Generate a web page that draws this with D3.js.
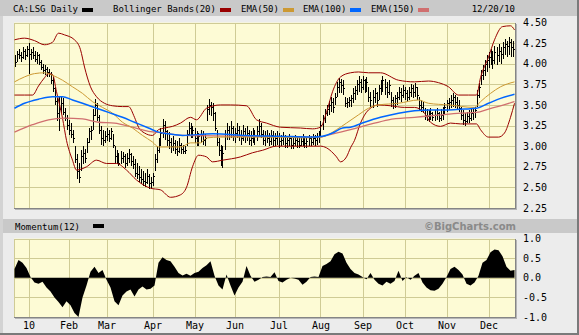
<!DOCTYPE html>
<html lang="en">
<head>
  <meta charset="UTF-8" />
  <title>CA:LSG Daily</title>
  <script src="https://d3js.org/d3.v7.min.js"></script>
  <style>
    body { margin: 0; background: #ececec; }
    svg { display: block; }
  </style>
</head>
<body>
  <div id="chart"></div>
  <script>
    // daily bars, one per trading day (index 0 = Dec 21 2009, 250 = Dec 20 2010)
    const hi = [
      4.10,4.16,4.18,4.14,4.20,4.18,4.22,4.25,4.18,4.20, 4.16,4.14,4.12,4.04,4.00,3.98,3.96,3.94,3.90,3.84,
      3.72,3.58,3.60,3.60,3.58,3.46,3.38,3.32,3.28,3.20, 3.00,2.90,2.80,2.95,3.00,2.96,3.10,3.22,3.25,3.45,
      3.57,3.52,3.38,3.25,3.20,3.18,3.22,3.20,3.22,3.15, 3.00,2.95,2.92,2.94,2.93,2.90,2.92,2.96,2.92,2.88,
      2.84,2.80,2.76,2.72,2.70,2.68,2.72,2.66,2.62,2.68, 2.90,3.00,3.10,3.22,3.33,3.30,3.20,3.17,3.10,3.12,
      3.08,3.06,3.10,3.04,3.02,3.00,3.20,3.29,3.28,3.25, 3.22,3.18,3.16,3.20,3.18,3.15,3.50,3.57,3.54,3.52,
      3.42,3.20,3.10,3.02,3.00,3.20,3.28,3.25,3.30,3.25, 3.22,3.28,3.25,3.20,3.26,3.22,3.24,3.20,3.18,3.22,
      3.20,3.24,3.33,3.28,3.20,3.18,3.20,3.16,3.20,3.18, 3.16,3.18,3.16,3.14,3.17,3.14,3.12,3.15,3.12,3.10,
      3.14,3.12,3.10,3.12,3.15,3.12,3.10,3.14,3.12,3.15, 3.14,3.16,3.18,3.30,3.38,3.45,3.50,3.55,3.60,3.58,
      3.65,3.78,3.83,3.82,3.80,3.60,3.58,3.60,3.62,3.70, 3.73,3.80,3.85,3.82,3.85,3.82,3.84,3.72,3.66,3.68,
      3.70,3.66,3.74,3.80,3.85,3.82,3.78,3.80,3.66,3.60, 3.62,3.66,3.72,3.70,3.74,3.72,3.68,3.72,3.76,3.74,
      3.77,3.72,3.60,3.56,3.54,3.46,3.45,3.44,3.46,3.42, 3.44,3.46,3.42,3.45,3.48,3.52,3.56,3.58,3.62,3.65,
      3.62,3.60,3.56,3.48,3.44,3.40,3.42,3.44,3.46,3.46, 3.48,3.68,3.77,3.92,3.98,4.05,4.10,4.14,4.18,4.16,
      4.22,4.20,4.24,4.20,4.26,4.30,4.28,4.32,4.30,4.28,4.30
    ];
    const lo = [
      3.96,4.02,4.06,4.02,4.06,4.04,4.08,3.88,4.04,4.06, 4.02,4.00,3.98,3.92,3.88,3.86,3.84,3.84,3.76,3.66,
      3.50,3.30,3.18,3.40,3.38,3.30,3.20,3.14,3.10,3.04, 2.80,2.60,2.55,2.70,2.78,2.80,2.92,3.04,3.08,3.20,
      3.36,3.30,3.15,3.02,3.00,3.04,3.06,3.05,3.08,2.98, 2.80,2.78,2.76,2.78,2.80,2.74,2.76,2.80,2.76,2.72,
      2.62,2.60,2.56,2.54,2.52,2.50,2.54,2.48,2.48,2.52, 2.70,2.80,2.92,3.00,3.10,3.08,3.00,2.96,2.92,2.94,
      2.90,2.88,2.92,2.90,2.90,2.90,3.00,3.12,3.10,3.10, 3.04,3.00,3.00,3.04,3.02,3.00,3.30,3.38,3.36,3.30,
      3.18,3.00,2.88,2.76,2.74,2.95,3.08,3.08,3.10,3.06, 3.04,3.10,3.06,3.02,3.06,3.04,3.06,3.02,3.00,3.04,
      3.02,3.06,3.12,3.10,3.02,3.00,3.04,3.00,3.02,3.00, 3.00,3.02,2.98,3.00,3.02,2.98,2.98,3.00,2.97,2.96,
      3.00,2.98,2.98,3.00,3.00,2.98,2.98,3.00,3.00,3.02, 3.00,3.02,3.04,3.14,3.20,3.28,3.36,3.38,3.42,3.40,
      3.50,3.60,3.65,3.64,3.62,3.48,3.46,3.48,3.48,3.52, 3.56,3.62,3.66,3.64,3.68,3.64,3.66,3.54,3.48,3.46,
      3.52,3.48,3.56,3.62,3.66,3.62,3.58,3.62,3.48,3.45, 3.46,3.50,3.56,3.54,3.58,3.56,3.54,3.56,3.60,3.58,
      3.60,3.56,3.44,3.42,3.40,3.32,3.30,3.29,3.32,3.30, 3.30,3.32,3.29,3.30,3.32,3.38,3.42,3.44,3.46,3.48,
      3.46,3.44,3.41,3.32,3.26,3.25,3.28,3.28,3.30,3.32, 3.34,3.48,3.58,3.74,3.80,3.85,3.90,3.95,3.98,3.94,
      4.00,3.98,4.02,4.00,4.06,4.10,4.08,4.10,4.08,4.08,4.10
    ];
    const cl = [
      4.02,4.12,4.10,4.08,4.15,4.10,4.18,4.12,4.14,4.10, 4.06,4.10,4.02,3.96,3.92,3.94,3.90,3.88,3.80,3.70,
      3.55,3.40,3.45,3.52,3.42,3.34,3.26,3.20,3.15,3.10, 2.85,2.70,2.62,2.88,2.92,2.86,3.05,3.18,3.20,3.38,
      3.50,3.35,3.20,3.10,3.08,3.12,3.15,3.10,3.18,3.02, 2.88,2.84,2.80,2.86,2.88,2.80,2.86,2.90,2.82,2.78,
      2.68,2.66,2.62,2.60,2.58,2.56,2.64,2.55,2.56,2.64, 2.85,2.95,3.05,3.16,3.26,3.18,3.08,3.05,3.00,3.04,
      2.96,2.94,3.02,2.96,2.94,2.95,3.15,3.22,3.18,3.20, 3.10,3.06,3.12,3.14,3.08,3.10,3.45,3.50,3.48,3.40,
      3.22,3.05,2.95,2.85,2.92,3.15,3.20,3.15,3.22,3.12, 3.16,3.20,3.12,3.10,3.18,3.12,3.16,3.08,3.10,3.14,
      3.12,3.18,3.25,3.15,3.08,3.12,3.10,3.06,3.14,3.08, 3.10,3.12,3.06,3.08,3.12,3.04,3.08,3.10,3.02,3.04,
      3.08,3.06,3.02,3.06,3.10,3.04,3.06,3.10,3.05,3.10, 3.08,3.12,3.14,3.26,3.34,3.40,3.45,3.50,3.54,3.48,
      3.60,3.72,3.78,3.74,3.70,3.52,3.54,3.56,3.58,3.65, 3.68,3.75,3.78,3.72,3.80,3.74,3.78,3.60,3.56,3.60,
      3.64,3.56,3.70,3.74,3.80,3.72,3.66,3.74,3.56,3.52, 3.58,3.60,3.66,3.62,3.68,3.64,3.60,3.66,3.70,3.66,
      3.72,3.62,3.50,3.48,3.44,3.38,3.36,3.34,3.40,3.35, 3.38,3.40,3.34,3.38,3.42,3.48,3.52,3.54,3.56,3.60,
      3.54,3.50,3.46,3.38,3.32,3.30,3.36,3.34,3.40,3.42, 3.44,3.62,3.72,3.86,3.92,4.00,4.04,4.08,4.10,4.04,
      4.14,4.10,4.16,4.12,4.20,4.24,4.22,4.26,4.20,4.18,4.22
    ];

    // overlays read at sample days: [day index, price]
    const bbUpper = [[0,4.29],[5,4.31],[10,4.28],[15,4.23],[19,4.26],[22,4.37],[25,4.35],[30,4.29],[33,4.17],[35,3.96],
      [38,3.72],[41,3.60],[45,3.52],[49,3.49],[54,3.48],[57,3.48],[60,3.35],[62,3.23],[65,3.16],[69,3.13],[72,3.20],
      [75,3.22],[79,3.24],[83,3.28],[88,3.35],[91,3.32],[96,3.46],[103,3.50],[108,3.50],[116,3.49],[121,3.32],
      [126,3.28],[133,3.23],[143,3.22],[149,3.21],[153,3.23],[156,3.41],[159,3.66],[163,3.84],[168,3.89],[172,3.90],
      [177,3.89],[183,3.89],[192,3.80],[200,3.78],[207,3.79],[212,3.77],[217,3.72],[222,3.62],[227,3.62],[231,3.62],
      [233,3.83],[237,4.08],[240,4.29],[244,4.45],[248,4.46],[250,4.41]];
    const bbLower = [[0,3.62],[5,3.62],[9,3.62],[12,3.73],[15,3.83],[17,3.88],[19,3.87],[21,3.66],[24,3.34],[26,3.07],
      [29,2.83],[31,2.71],[36,2.75],[41,2.83],[46,2.79],[51,2.79],[56,2.71],[61,2.59],[68,2.49],[73,2.47],[78,2.38],
      [83,2.41],[86,2.50],[89,2.75],[92,2.89],[96,2.87],[99,2.81],[104,2.83],[113,2.87],[119,2.92],[124,2.95],
      [131,3.00],[138,3.00],[153,3.00],[156,2.98],[161,2.87],[163,2.81],[166,2.87],[168,2.98],[170,3.07],[173,3.28],
      [177,3.44],[182,3.50],[188,3.49],[195,3.47],[200,3.47],[205,3.40],[208,3.29],[213,3.24],[218,3.28],[223,3.27],
      [231,3.27],[233,3.20],[237,3.11],[242,3.11],[245,3.16],[248,3.35],[250,3.52]];
    const ema50 = [[0,3.78],[5,3.84],[10,3.88],[15,3.89],[19,3.86],[24,3.80],[29,3.72],[34,3.64],[39,3.54],[44,3.47],
      [49,3.40],[54,3.29],[59,3.22],[64,3.13],[69,3.05],[72,2.99],[77,2.99],[83,2.99],[88,3.04],[93,3.04],[96,3.10],
      [103,3.11],[113,3.11],[124,3.11],[133,3.11],[143,3.10],[153,3.11],[156,3.13],[161,3.20],[166,3.28],[172,3.38],
      [177,3.46],[182,3.50],[192,3.52],[202,3.56],[207,3.52],[217,3.50],[230,3.47],[233,3.54],[238,3.64],[243,3.72],
      [250,3.78]];
    const ema100 = [[0,3.46],[5,3.52],[12,3.57],[19,3.60],[24,3.60],[29,3.56],[34,3.52],[40,3.47],[47,3.41],[54,3.35],
      [60,3.29],[67,3.22],[72,3.17],[77,3.15],[84,3.13],[99,3.15],[116,3.13],[133,3.12],[149,3.11],[154,3.12],
      [159,3.16],[164,3.22],[168,3.23],[175,3.29],[183,3.35],[192,3.40],[200,3.43],[208,3.44],[217,3.44],[225,3.45],
      [231,3.46],[237,3.52],[243,3.58],[250,3.63]];
    const ema150 = [[0,3.17],[9,3.26],[17,3.32],[25,3.34],[34,3.33],[42,3.29],[50,3.28],[59,3.23],[67,3.18],[75,3.16],
      [84,3.13],[118,3.12],[153,3.11],[156,3.13],[163,3.17],[168,3.20],[177,3.26],[187,3.32],[200,3.35],[213,3.38],
      [223,3.40],[231,3.41],[237,3.45],[243,3.49],[250,3.54]];

    // Momentum(12), read every second trading day
    const momentum = [
      0.22,0.45,0.38,0.25,0.02,-0.12,-0.15,-0.1,-0.25,-0.35,
      -0.5,-0.62,-0.75,-0.6,-0.7,-0.9,-1.0,-0.5,-0.2,0.15,
      0.28,0.12,0.2,-0.05,-0.25,-0.6,-0.7,-0.45,-0.35,-0.3,
      -0.48,-0.3,-0.22,-0.3,-0.28,-0.2,0.38,0.52,0.45,0.42,
      0.28,0.12,0.06,0.1,0.05,0.12,0.15,0.25,0.32,0.42,
      0.05,-0.2,-0.3,0.08,-0.2,-0.45,-0.25,-0.1,0.3,0.05,
      -0.1,-0.05,0.02,0.03,0.02,0.14,-0.08,-0.12,-0.05,0.0,
      -0.02,-0.05,-0.18,-0.1,0.02,0.03,0.02,0.3,0.35,0.42,
      0.6,0.66,0.62,0.38,0.22,0.12,0.08,0.02,-0.04,0.12,
      -0.05,-0.15,-0.2,-0.1,-0.15,-0.08,0.18,-0.08,0.02,-0.05,
      0.05,0.12,-0.12,-0.25,-0.32,-0.33,-0.28,-0.15,0.02,0.22,
      0.28,0.2,0.08,-0.15,-0.2,-0.12,0.05,0.38,0.45,0.65,
      0.72,0.7,0.55,0.28,0.18,0.2
    ];

    // month starts (trading day index) and labels
    const monthIdx = [7, 27, 46, 69, 90, 110, 132, 153, 174, 195, 216, 237];
    const monthLabels = ["10", "Feb", "Mar", "Apr", "May", "Jun", "Jul", "Aug", "Sep", "Oct", "Nov", "Dec"];
    const priceTicks = [2.25, 2.5, 2.75, 3.0, 3.25, 3.5, 3.75, 4.0, 4.25, 4.5];
    const momTicks = [-1, -0.5, 0, 0.5, 1];

    const legendItems = [
      { label: "CA:LSG Daily", color: "#000000", x: 13 },
      { label: "Bollinger Bands(20)", color: "#990000", x: 113 },
      { label: "EMA(50)", color: "#cc9933", x: 241 },
      { label: "EMA(100)", color: "#0066ff", x: 303 },
      { label: "EMA(150)", color: "#d06f6f", x: 371 }
    ];

    const W = 579, H = 335;
    const left = 14, right = 515;
    const pTop = 22.5, pBot = 208;
    const mTop = 238.5, mBot = 317;
    const gridColor = "#cfcb95";
    const plotFill = "#fdfbd5";

    const svg = d3.select("#chart").append("svg").attr("width", W).attr("height", H);

    // frame / chrome
    svg.append("rect").attr("width", W).attr("height", H).attr("fill", "#ececec");
    svg.append("rect").attr("x", 0).attr("y", 0).attr("width", W).attr("height", 16).attr("fill", "#c9c9c9");
    svg.append("rect").attr("x", 0).attr("y", 16).attr("width", 3).attr("height", H - 16).attr("fill", "#d3d3d3");
    svg.append("rect").attr("x", 3).attr("y", 219).attr("width", W - 5).attr("height", 14).attr("fill", "#c9c9c9");
    svg.append("rect").attr("x", W - 2).attr("y", 0).attr("width", 2).attr("height", H).attr("fill", "#7a7a7a");
    svg.append("rect").attr("x", 0).attr("y", H - 2).attr("width", W).attr("height", 2).attr("fill", "#7a7a7a");

    const x = d3.scaleLinear().domain([0, 250]).range([left + 0.5, right - 0.5]);
    const y = d3.scaleLinear().domain([2.25, 4.5]).range([pBot, pTop]);
    const ym = d3.scaleLinear().domain([-1, 1]).range([mBot, mTop]);

    function panel(top, bot, ticks, yScale) {
      svg.append("rect").attr("x", left).attr("y", top).attr("width", right - left).attr("height", bot - top)
        .attr("fill", plotFill);
      const g = svg.append("g").attr("shape-rendering", "crispEdges").attr("stroke", gridColor);
      g.selectAll("line.h").data(ticks).join("line").attr("class", "h")
        .attr("x1", left).attr("x2", right)
        .attr("y1", d => Math.round(yScale(d)) + 0.5).attr("y2", d => Math.round(yScale(d)) + 0.5);
      g.selectAll("line.v").data(monthIdx).join("line").attr("class", "v")
        .attr("x1", d => Math.round(x(d)) + 0.5).attr("x2", d => Math.round(x(d)) + 0.5)
        .attr("y1", top).attr("y2", bot);
      g.append("line").attr("x1", left + 0.5).attr("x2", left + 0.5).attr("y1", top).attr("y2", bot);
      return g;
    }

    function frameShadow(top, bot) {
      const g = svg.append("g").attr("shape-rendering", "crispEdges");
      g.append("line").attr("x1", left).attr("x2", right + 1).attr("y1", bot + 0.5).attr("y2", bot + 0.5).attr("stroke", "#858585");
      g.append("line").attr("x1", right + 0.5).attr("x2", right + 0.5).attr("y1", top).attr("y2", bot + 1).attr("stroke", "#858585");
      g.append("line").attr("x1", left + 1).attr("x2", right + 2).attr("y1", bot + 1.5).attr("y2", bot + 1.5).attr("stroke", "#b5b5b5");
      g.append("line").attr("x1", right + 1.5).attr("x2", right + 1.5).attr("y1", top + 1).attr("y2", bot + 2).attr("stroke", "#b5b5b5");
    }

    // price panel
    panel(pTop, pBot, priceTicks, y);

    const bars = svg.append("g").attr("shape-rendering", "crispEdges").attr("stroke", "#000");
    cl.forEach((c, i) => {
      const bx = Math.round(x(i)) + 0.5;
      bars.append("line").attr("x1", bx).attr("x2", bx).attr("y1", y(hi[i])).attr("y2", y(lo[i]));
      bars.append("line").attr("x1", bx).attr("x2", bx + 1.5)
        .attr("y1", Math.round(y(c)) + 0.5).attr("y2", Math.round(y(c)) + 0.5);
    });

    const line = d3.line().x(d => x(d[0])).y(d => y(d[1])).curve(d3.curveMonotoneX);
    const overlays = [
      { data: bbUpper, color: "#990000", w: 1 },
      { data: bbLower, color: "#990000", w: 1 },
      { data: ema150, color: "#d06f6f", w: 1.3 },
      { data: ema50, color: "#cc9933", w: 1 },
      { data: ema100, color: "#0066ff", w: 1.5 }
    ];
    overlays.forEach(o => {
      svg.append("path").datum(o.data).attr("fill", "none").attr("stroke", o.color)
        .attr("stroke-width", o.w).attr("d", line);
    });
    frameShadow(pTop, pBot);

    svg.append("g").attr("transform", `translate(${right + 2},0)`)
      .call(d3.axisRight(y).tickValues(priceTicks).tickSize(0).tickPadding(6).tickFormat(d => d.toFixed(2)))
      .call(g => g.select(".domain").remove())
      .selectAll("text").attr("font-family", "DejaVu Sans Mono").attr("font-size", 10).attr("fill", "#000");

    // header legend
    const head = svg.append("g").attr("font-family", "DejaVu Sans Mono").attr("font-size", 9);
    legendItems.forEach(it => {
      const t = head.append("text").attr("x", it.x).attr("y", 12).text(it.label);
      const w = t.node().getComputedTextLength();
      head.append("rect").attr("x", Math.round(it.x + w + 4)).attr("y", 8).attr("width", 11).attr("height", 4)
        .attr("fill", it.color);
    });
    head.append("text").attr("x", right).attr("y", 12).attr("text-anchor", "end").text("12/20/10");

    // momentum panel
    svg.append("text").attr("x", 15).attr("y", 229.5).attr("font-family", "DejaVu Sans Mono").attr("font-size", 9)
      .text("Momentum(12)");
    svg.append("rect").attr("x", 93).attr("y", 224).attr("width", 11).attr("height", 4).attr("fill", "#000");
    svg.append("text").attr("x", right + 1).attr("y", 230).attr("text-anchor", "end")
      .attr("font-family", "DejaVu Sans").attr("font-weight", "bold").attr("font-size", 10)
      .attr("fill", "#8a8a8a").text("\u00A9BigCharts.com");

    panel(mTop, mBot, momTicks, ym);
    const area = d3.area().x((d, k) => x(k * 2)).y0(ym(0)).y1(d => ym(d));
    svg.append("path").datum(momentum).attr("fill", "#000").attr("d", area);
    frameShadow(mTop, mBot);

    svg.append("g").attr("transform", `translate(${right + 2},0)`)
      .call(d3.axisRight(ym).tickValues(momTicks).tickSize(0).tickPadding(6).tickFormat(d => d.toFixed(1)))
      .call(g => g.select(".domain").remove())
      .selectAll("text").attr("font-family", "DejaVu Sans Mono").attr("font-size", 10).attr("fill", "#000");

    svg.append("g").attr("transform", `translate(0,${mBot})`)
      .call(d3.axisBottom(x).tickValues(monthIdx).tickSize(0).tickPadding(5).tickFormat((d, i) => monthLabels[i]))
      .call(g => g.select(".domain").remove())
      .selectAll("text").attr("font-family", "DejaVu Sans Mono").attr("font-size", 10).attr("fill", "#000");
  </script>
</body>
</html>
